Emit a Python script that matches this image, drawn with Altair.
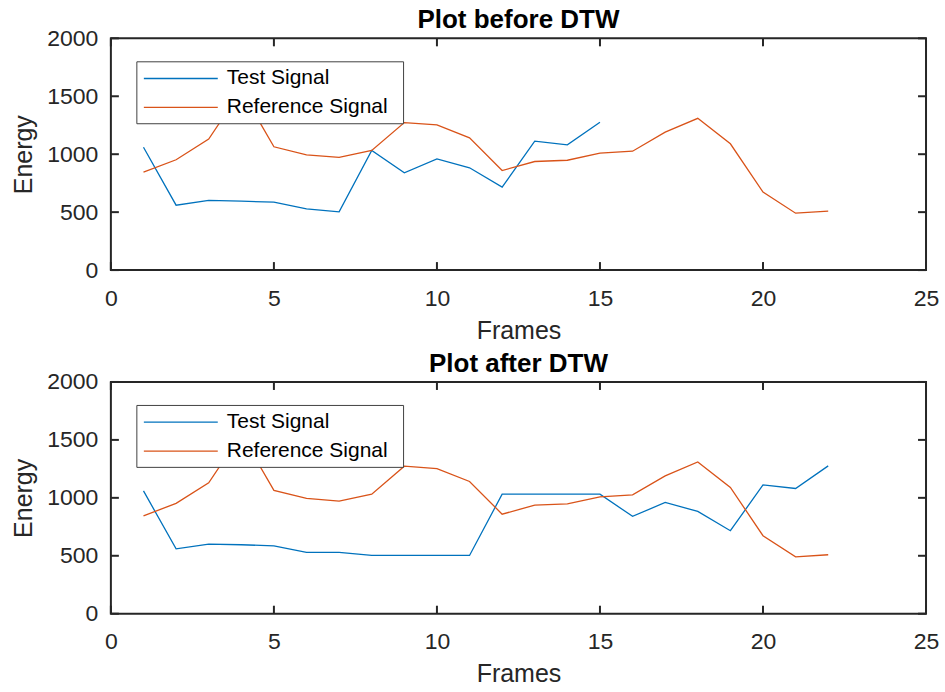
import altair as alt
import pandas as pd

# ---- data ----
frames_test = list(range(1, 16))
test_before = [1060, 560, 601, 595, 586, 529, 503, 1032, 840, 960, 883, 716, 1112, 1081, 1276]

frames_ref = list(range(1, 23))
reference = [845, 952, 1130, 1550, 1064, 995, 972, 1032, 1273, 1253, 1141, 859,
             937, 948, 1009, 1026, 1190, 1310, 1090, 673, 491, 509]

frames_after = list(range(1, 23))
test_after = [1060, 560, 601, 595, 586, 529, 529, 503, 503, 503, 503, 1032,
              1032, 1032, 1032, 840, 960, 883, 716, 1112, 1081, 1276]

x_ticks = [0, 5, 10, 15, 20, 25]
y_ticks = [0, 500, 1000, 1500, 2000]
series_names = ["Test Signal", "Reference Signal"]
series_colors = ["#0072BD", "#D95319"]

W, H = 816, 232
X_MAX, Y_MAX = 25, 2000
TICK_PX = 8
FONT = "Liberation Sans"
AX = "#262626"


def long_df(fr_t, vals_t, fr_r, vals_r):
    a = pd.DataFrame({"frame": fr_t, "energy": vals_t, "series": series_names[0]})
    b = pd.DataFrame({"frame": fr_r, "energy": vals_r, "series": series_names[1]})
    return pd.concat([a, b], ignore_index=True)


xscale = alt.Scale(domain=[0, X_MAX], nice=False, zero=False)
yscale = alt.Scale(domain=[0, Y_MAX], nice=False)

xtick_df = pd.DataFrame({"t": x_ticks})
ytick_df = pd.DataFrame({"t": y_ticks})
tick_dy = TICK_PX * Y_MAX / H
tick_dx = TICK_PX * X_MAX / W

# legend geometry (pixels inside the plot area)
LEG_X0, LEG_X1, LEG_Y0, LEG_Y1 = 26, 293, 23.5, 85.5
ROW_Y = [40.2, 69.2]
SYM_X0, SYM_X1, LAB_X = 33, 107, 116


def panel(df, title):
    lines = alt.Chart(df).mark_line(strokeWidth=1.3, clip=True).encode(
        x=alt.X("frame:Q", scale=xscale,
                axis=alt.Axis(title="Frames", values=x_ticks, format="d")),
        y=alt.Y("energy:Q", scale=yscale,
                axis=alt.Axis(title="Energy", values=y_ticks, format="d")),
        color=alt.Color("series:N",
                        scale=alt.Scale(domain=series_names, range=series_colors),
                        legend=None),
    )
    # inward-pointing tick marks on all four sides of the box
    rule = dict(color=AX, strokeWidth=2)
    bt = alt.Chart(xtick_df).mark_rule(**rule).encode(
        x=alt.X("t:Q", scale=xscale), y=alt.datum(0), y2=alt.datum(tick_dy))
    tt = alt.Chart(xtick_df).mark_rule(**rule).encode(
        x=alt.X("t:Q", scale=xscale), y=alt.datum(Y_MAX), y2=alt.datum(Y_MAX - tick_dy))
    lt = alt.Chart(ytick_df).mark_rule(**rule).encode(
        y=alt.Y("t:Q", scale=yscale), x=alt.datum(0), x2=alt.datum(tick_dx))
    rt = alt.Chart(ytick_df).mark_rule(**rule).encode(
        y=alt.Y("t:Q", scale=yscale), x=alt.datum(X_MAX), x2=alt.datum(X_MAX - tick_dx))

    box = alt.Chart(pd.DataFrame({"k": [0]})).mark_rect(
        fill="#ffffff", stroke="#404040", strokeWidth=1).encode(
        x=alt.value(LEG_X0), x2=alt.value(LEG_X1), y=alt.value(LEG_Y0), y2=alt.value(LEG_Y1))
    entries = []
    for i, name in enumerate(series_names):
        d = pd.DataFrame({"label": [name]})
        entries.append(alt.Chart(d).mark_rule(color=series_colors[i], strokeWidth=1.3).encode(
            x=alt.value(SYM_X0), x2=alt.value(SYM_X1), y=alt.value(ROW_Y[i])))
        entries.append(alt.Chart(d).mark_text(
            align="left", baseline="middle", font=FONT, fontSize=21, color="#000000").encode(
            x=alt.value(LAB_X), y=alt.value(ROW_Y[i]), text="label:N"))

    return alt.layer(lines, bt, tt, lt, rt, box, *entries).properties(
        width=W, height=H,
        title=alt.TitleParams(title, fontSize=26, font=FONT, fontWeight="bold",
                              color="#000000", offset=-6),
    )


top = panel(long_df(frames_test, test_before, frames_ref, reference), "Plot before DTW")
bottom = panel(long_df(frames_after, test_after, frames_ref, reference), "Plot after DTW")

chart = alt.vconcat(top, bottom, spacing=6).properties(
    padding={"left": 10, "top": 6, "right": 5, "bottom": 5},
    background="#ffffff",
).configure_view(stroke=AX, strokeWidth=2).configure_axis(
    grid=False, domain=False, ticks=False, labelFlush=False,
    labelFont=FONT, labelFontSize=23, labelColor=AX, labelPadding=13,
    titleFont=FONT, titleFontSize=25, titleColor=AX, titleFontWeight="normal",
    titlePadding=10,
).configure_axisX(labelPadding=17, titlePadding=8)

chart.save("out.html", embed_options={"renderer": "svg", "actions": False})
